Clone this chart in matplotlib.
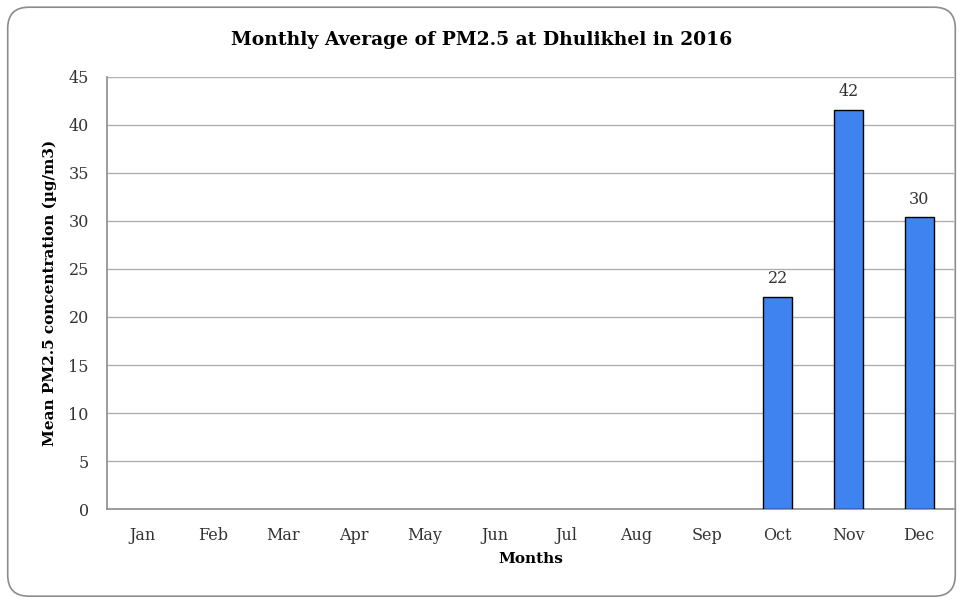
import numpy as np
import matplotlib
matplotlib.use("Agg")
import matplotlib.pyplot as plt
from matplotlib.patches import FancyBboxPatch

# Monthly PM2.5 means at Dhulikhel, 2016 (only Oct-Dec measured)
months = ["Jan", "Feb", "Mar", "Apr", "May", "Jun",
          "Jul", "Aug", "Sep", "Oct", "Nov", "Dec"]
pm25 = [np.nan] * 9 + [22.1, 41.6, 30.4]
labels = [""] * 9 + ["22", "42", "30"]
yticks = list(range(0, 50, 5))

plt.rcParams["font.family"] = ["DejaVu Serif"]

fig = plt.figure(figsize=(9.63, 6.01), dpi=100, facecolor="white")

# Rounded outer frame
frame = FancyBboxPatch((0.008, 0.008), 0.984, 0.98,
                       boxstyle="round,pad=0,rounding_size=0.022",
                       transform=fig.transFigure, facecolor="none",
                       edgecolor="#8c8c8c", linewidth=1.2,
                       mutation_aspect=963 / 601, zorder=-1)
fig.patches.append(frame)

ax = fig.add_axes([0.111, 0.153, 0.880, 0.719])
x = np.arange(len(months))
ax.bar(x, pm25, width=0.41, color="#3f83f0", edgecolor="black",
       linewidth=1.0, zorder=3)

for xi, v, lab in zip(x, pm25, labels):
    if lab:
        ax.text(xi, v + 1.0, lab, ha="center", va="bottom",
                fontsize=11.5, color="#333333")

ax.set_xlim(-0.5, len(months) - 0.5)
ax.set_ylim(0, 45)
ax.set_yticks(yticks)
ax.set_xticks(x)
ax.set_xticklabels(months)
ax.tick_params(axis="both", length=0, labelsize=11.5, colors="#333333")
ax.tick_params(axis="y", pad=13)
ax.tick_params(axis="x", pad=13)
ax.grid(axis="y", color="#b0b0b0", linewidth=1.0, zorder=0)

for side in ["top", "right"]:
    ax.spines[side].set_visible(False)
for side in ["left", "bottom"]:
    ax.spines[side].set_color("#8c8c8c")
    ax.spines[side].set_linewidth(1.2)

ax.set_xlabel("Months", fontsize=11, fontweight="bold", labelpad=6)
ax.set_ylabel("Mean PM2.5 concentration (µg/m3)", fontsize=11,
              fontweight="bold", labelpad=8)
fig.text(0.5, 0.933, "Monthly Average of PM2.5 at Dhulikhel in 2016",
         ha="center", va="center", fontsize=13.5, fontweight="bold")

fig.savefig("out.png", dpi=100, facecolor="white")
